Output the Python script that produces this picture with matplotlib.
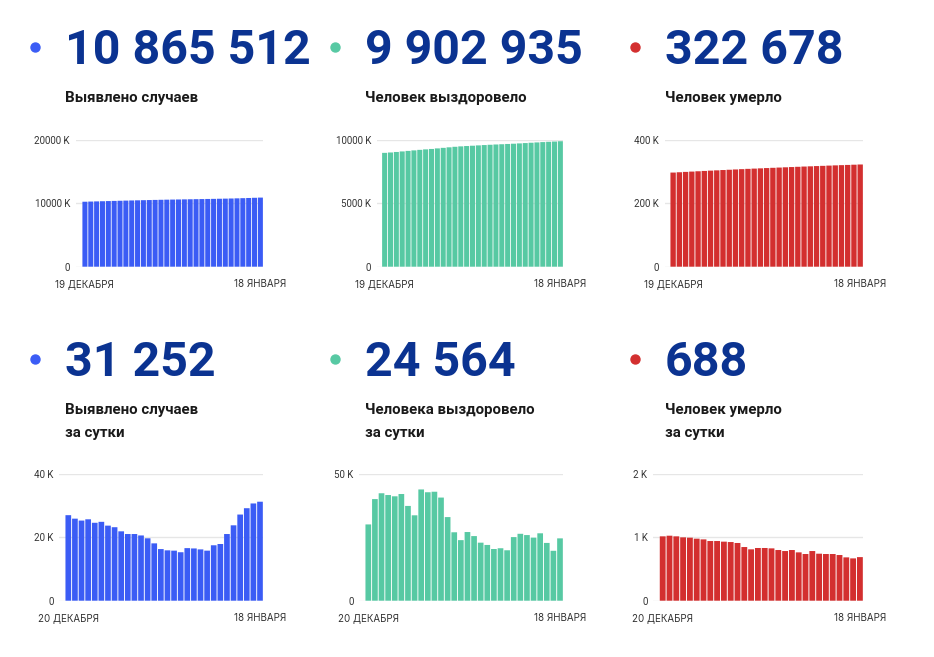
import matplotlib
matplotlib.use("Agg")
import matplotlib.pyplot as plt

plt.rcParams["font.family"] = ["Roboto", "DejaVu Sans"]

W, H = 934, 657

# cumulative values (thousands), 19 Dec .. 18 Jan
cases_total = [10216, 10243, 10269, 10294, 10320, 10344, 10369, 10393, 10416, 10438,
               10459, 10480, 10501, 10521, 10539, 10555, 10571, 10587, 10602, 10619,
               10635, 10651, 10667, 10685, 10703, 10724, 10748, 10775, 10804, 10835, 10866]
recovered_total = [8985, 9015, 9055, 9098, 9139, 9180, 9222, 9260, 9293, 9337,
                   9380, 9423, 9464, 9497, 9524, 9548, 9575, 9601, 9624, 9646,
                   9666, 9687, 9707, 9732, 9758, 9784, 9809, 9835, 9858, 9878, 9903]
deaths_total = [297.2, 298.2, 299.3, 300.3, 301.3, 302.3, 303.3, 304.2, 305.2, 306.1,
                307.0, 308.0, 308.9, 309.7, 310.5, 311.4, 312.2, 313.0, 313.8, 314.6,
                315.4, 316.2, 316.9, 317.7, 318.4, 319.2, 319.9, 320.6, 321.3, 322.0, 322.7]

# daily values (thousands), 20 Dec .. 18 Jan
cases_daily = [27.0, 25.9, 25.3, 25.7, 24.6, 24.9, 23.7, 23.2, 21.9, 21.05,
               21.05, 20.6, 19.7, 18.1, 16.3, 15.9, 15.8, 15.3, 16.6, 16.5,
               16.2, 15.8, 17.5, 17.9, 21.05, 23.8, 27.2, 29.2, 30.7, 31.25]
recovered_daily = [30.1, 40.1, 42.4, 41.7, 41.2, 42.1, 37.4, 33.7, 43.9, 42.8,
                   43.0, 40.7, 33.0, 27.0, 23.9, 27.1, 25.5, 22.9, 22.0, 20.4,
                   20.7, 19.9, 25.1, 26.4, 25.9, 24.9, 26.6, 22.8, 19.7, 24.6]
deaths_daily = [1.016, 1.026, 1.016, 1.0, 0.995, 0.979, 0.968, 0.942, 0.942, 0.932,
                0.926, 0.911, 0.847, 0.811, 0.832, 0.832, 0.826, 0.8, 0.784, 0.8,
                0.763, 0.737, 0.784, 0.742, 0.737, 0.737, 0.721, 0.684, 0.668, 0.688]

big_numbers = ["10 865 512", "9 902 935", "322 678", "31 252", "24 564", "688"]
subtitles = ["Выявлено случаев", "Человек выздоровело", "Человек умерло",
             "Выявлено случаев\nза сутки", "Человека выздоровело\nза сутки",
             "Человек умерло\nза сутки"]

BLUE, GREEN, RED = "#3b5cf5", "#57c9a3", "#d32f2f"
NAVY = "#0b3391"
GRID = "#e6e6e6"
TXT = "#333333"

fig = plt.figure(figsize=(W / 100, H / 100), dpi=100)
over = fig.add_axes([0, 0, 1, 1])
over.set_xlim(0, W)
over.set_ylim(H, 0)
over.axis("off")


def bar_panel(values, color, ticks, ticklabels, label_end, bars_left, bars_right,
              y0, ytop, xlabels):
    n = len(values)
    ax_left = label_end + 4
    unit = (bars_right - bars_left) / n
    ax = fig.add_axes([ax_left / W, 1 - y0 / H, (bars_right - ax_left) / W, (y0 - ytop) / H])
    ax.bar(range(n), values, width=0.86, color=color, zorder=2, snap=False)
    ax.set_xlim(-0.5 - (bars_left - ax_left) / unit, n - 0.5)
    ax.set_ylim(ticks[0], ticks[-1])
    ax.set_yticks(ticks)
    ax.set_yticklabels(ticklabels)
    ax.yaxis.grid(True, color=GRID, linewidth=1, zorder=0)
    ax.tick_params(axis="y", length=0, pad=4, labelsize=7, labelcolor=TXT)
    ax.set_xticks([0, n - 1])
    # Inter here: the Roboto variable font kerns "АБ" badly in matplotlib
    ax.set_xticklabels(xlabels, family=["Inter", "DejaVu Sans"])
    ax.tick_params(axis="x", length=0, pad=9, labelsize=7, labelcolor=TXT)
    for s in ax.spines.values():
        s.set_visible(False)
    ax.set_facecolor("none")
    return ax


top = ["19 ДЕКАБРЯ", "18 ЯНВАРЯ"]
bot = ["20 ДЕКАБРЯ", "18 ЯНВАРЯ"]
bar_panel(cases_total, BLUE, [0, 10000, 20000], ["0", "10000 K", "20000 K"],
          71.5, 82, 263.3, 266.7, 139.5, top)
bar_panel(recovered_total, GREEN, [0, 5000, 10000], ["0", "5000 K", "10000 K"],
          372.5, 381.7, 563.3, 266.7, 140, top)
bar_panel(deaths_total, RED, [0, 200, 400], ["0", "200 K", "400 K"],
          660.5, 670, 863.3, 266.7, 140, top)
bar_panel(cases_daily, BLUE, [0, 20, 40], ["0", "20 K", "40 K"],
          55, 65, 263.3, 600.7, 474, bot)
bar_panel(recovered_daily, GREEN, [0, 50], ["0", "50 K"],
          355, 365, 563.3, 600.7, 474, bot)
bar_panel(deaths_daily, RED, [0, 1, 2], ["0", "1 K", "2 K"],
          649, 659.3, 863.3, 600.7, 474, bot)

colors = [BLUE, GREEN, RED] * 2
for i, (num, sub, c) in enumerate(zip(big_numbers, subtitles, colors)):
    col, row = i % 3, i // 3
    x = 35 + 300 * col
    base = 64 if row == 0 else 376
    over.scatter([x], [base - 17], s=42, color=c, zorder=3)
    over.text(x + 30, base, num, fontsize=34.8, fontweight="bold", color=NAVY, va="baseline")
    sy = 98 if row == 0 else 410
    for j, line in enumerate(sub.split("\n")):
        over.text(x + 30, sy + 23 * j, line, fontsize=10.8, fontweight="bold",
                  color="#1a1a1a", va="center")

fig.savefig("out.png", dpi=100)
